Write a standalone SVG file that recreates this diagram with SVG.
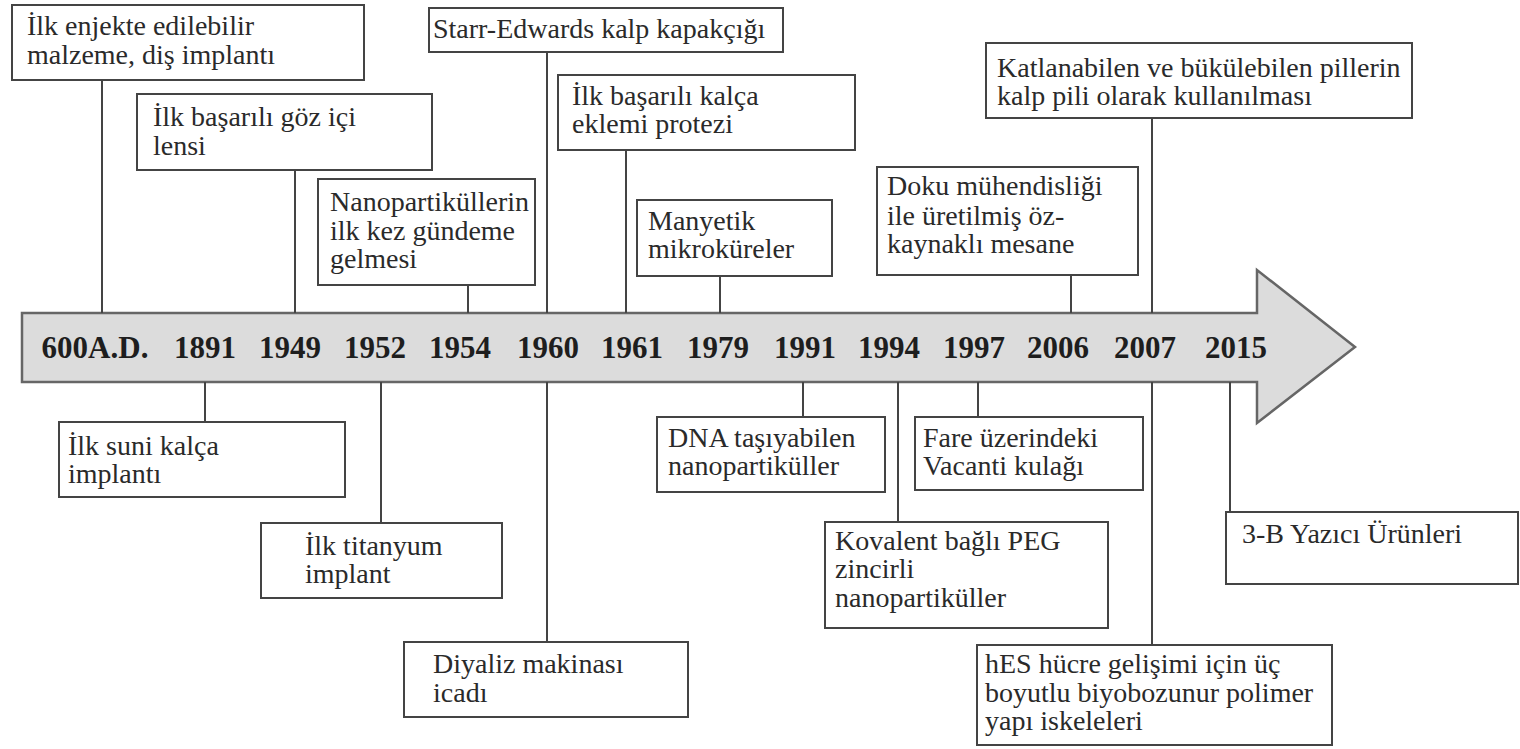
<svg xmlns="http://www.w3.org/2000/svg" width="1520" height="749" viewBox="0 0 1520 749">
<style>
.box{fill:#fff;stroke:#444;stroke-width:2}
.t{font-family:"Liberation Serif","DejaVu Serif",serif;font-size:28px;fill:#2a2a2a}
.yr{font-family:"Liberation Serif","DejaVu Serif",serif;font-size:31px;font-weight:bold;fill:#1e1e1e;text-anchor:middle}
.c{stroke:#444;stroke-width:2;fill:none}
</style>
<rect width="1520" height="749" fill="#fff"/>
<g id="timeline-arrow">
<polygon points="22,313 1257,313 1257,270 1355,347 1257,423 1257,382 22,382" fill="#dcdcdc" stroke="#666" stroke-width="2.5"/>
<text class="yr" x="95" y="358">600A.D.</text>
<text class="yr" x="205" y="358">1891</text>
<text class="yr" x="290" y="358">1949</text>
<text class="yr" x="375" y="358">1952</text>
<text class="yr" x="460" y="358">1954</text>
<text class="yr" x="548" y="358">1960</text>
<text class="yr" x="632" y="358">1961</text>
<text class="yr" x="718" y="358">1979</text>
<text class="yr" x="805" y="358">1991</text>
<text class="yr" x="889" y="358">1994</text>
<text class="yr" x="974" y="358">1997</text>
<text class="yr" x="1058" y="358">2006</text>
<text class="yr" x="1145" y="358">2007</text>
<text class="yr" x="1236" y="358">2015</text>
</g>
<g id="connectors">
<line class="c" x1="102" y1="80" x2="102" y2="313"/>
<line class="c" x1="295" y1="170" x2="295" y2="313"/>
<line class="c" x1="468" y1="285" x2="468" y2="313"/>
<line class="c" x1="547" y1="52" x2="547" y2="313"/>
<line class="c" x1="626" y1="150" x2="626" y2="313"/>
<line class="c" x1="720" y1="276" x2="720" y2="313"/>
<line class="c" x1="1071" y1="275" x2="1071" y2="313"/>
<line class="c" x1="1152" y1="118" x2="1152" y2="313"/>
<line class="c" x1="205" y1="382" x2="205" y2="422"/>
<line class="c" x1="381" y1="382" x2="381" y2="523"/>
<line class="c" x1="547" y1="382" x2="547" y2="642"/>
<line class="c" x1="803" y1="382" x2="803" y2="417"/>
<line class="c" x1="898" y1="382" x2="898" y2="522"/>
<line class="c" x1="978" y1="382" x2="978" y2="417"/>
<line class="c" x1="1230" y1="382" x2="1230" y2="512"/>
<line class="c" x1="1152" y1="382" x2="1152" y2="645"/>
</g>
<g id="n600">
<rect class="box" x="12" y="5" width="352" height="75"/>
<text class="t" x="27" y="35">İlk enjekte edilebilir</text>
<text class="t" x="27" y="64">malzeme, diş implantı</text>
</g>
<g id="n1949">
<rect class="box" x="137" y="94" width="295" height="76"/>
<text class="t" x="153" y="126">İlk başarılı göz içi</text>
<text class="t" x="153" y="155">lensi</text>
</g>
<g id="n1954">
<rect class="box" x="318" y="179" width="217" height="106"/>
<text class="t" x="330" y="211">Nanopartiküllerin</text>
<text class="t" x="330" y="240">ilk kez gündeme</text>
<text class="t" x="330" y="268">gelmesi</text>
</g>
<g id="n1960top">
<rect class="box" x="429" y="8" width="354" height="44"/>
<text class="t" x="433" y="38">Starr-Edwards kalp kapakçığı</text>
</g>
<g id="n1961">
<rect class="box" x="558" y="75" width="297" height="75"/>
<text class="t" x="572" y="105">İlk başarılı kalça</text>
<text class="t" x="572" y="133">eklemi protezi</text>
</g>
<g id="n1979">
<rect class="box" x="637" y="200" width="195" height="76"/>
<text class="t" x="648" y="230">Manyetik</text>
<text class="t" x="648" y="258">mikroküreler</text>
</g>
<g id="n2006">
<rect class="box" x="877" y="167" width="261" height="108"/>
<text class="t" x="887" y="195">Doku mühendisliği</text>
<text class="t" x="887" y="225">ile üretilmiş öz-</text>
<text class="t" x="887" y="253">kaynaklı mesane</text>
</g>
<g id="n2007top">
<rect class="box" x="986" y="43" width="426" height="75"/>
<text class="t" x="997" y="77">Katlanabilen ve bükülebilen pillerin</text>
<text class="t" x="997" y="105">kalp pili olarak kullanılması</text>
</g>
<g id="n1891">
<rect class="box" x="59" y="422" width="286" height="75"/>
<text class="t" x="68" y="455">İlk suni kalça</text>
<text class="t" x="68" y="483">implantı</text>
</g>
<g id="n1952">
<rect class="box" x="261" y="523" width="241" height="75"/>
<text class="t" x="305" y="555">İlk titanyum</text>
<text class="t" x="305" y="583">implant</text>
</g>
<g id="n1960bottom">
<rect class="box" x="404" y="642" width="284" height="75"/>
<text class="t" x="433" y="673">Diyaliz makinası</text>
<text class="t" x="433" y="702">icadı</text>
</g>
<g id="n1991">
<rect class="box" x="657" y="417" width="228" height="75"/>
<text class="t" x="668" y="447">DNA taşıyabilen</text>
<text class="t" x="668" y="475">nanopartiküller</text>
</g>
<g id="n1994">
<rect class="box" x="825" y="522" width="283" height="106"/>
<text class="t" x="835" y="550">Kovalent bağlı PEG</text>
<text class="t" x="835" y="578">zincirli</text>
<text class="t" x="835" y="607">nanopartiküller</text>
</g>
<g id="n1997">
<rect class="box" x="915" y="417" width="228" height="73"/>
<text class="t" x="923" y="447">Fare üzerindeki</text>
<text class="t" x="923" y="475">Vacanti kulağı</text>
</g>
<g id="n2015">
<rect class="box" x="1226" y="512" width="292" height="72"/>
<text class="t" x="1242" y="543">3-B Yazıcı Ürünleri</text>
</g>
<g id="n2007bottom">
<rect class="box" x="977" y="645" width="355" height="100"/>
<text class="t" x="985" y="673">hES hücre gelişimi için üç</text>
<text class="t" x="985" y="702">boyutlu biyobozunur polimer</text>
<text class="t" x="985" y="730">yapı iskeleleri</text>
</g>
</svg>
